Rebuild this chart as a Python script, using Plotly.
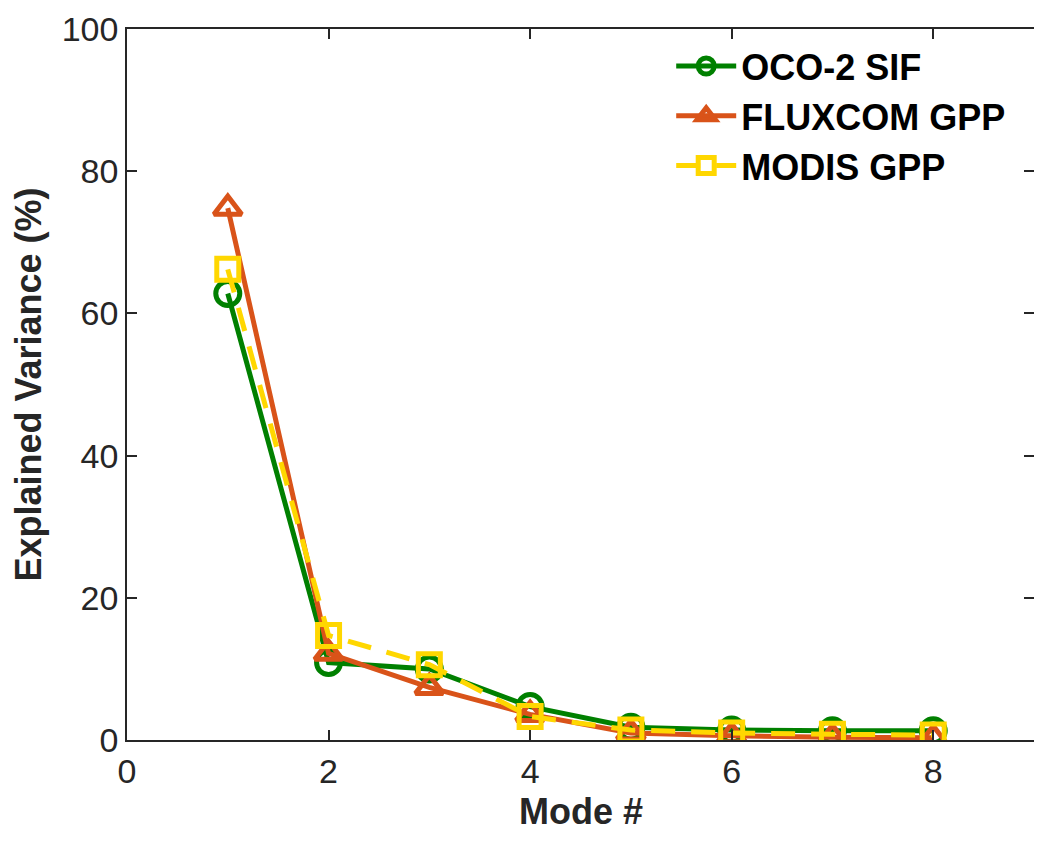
import plotly.graph_objects as go

modes = [1, 2, 3, 4, 5, 6, 7, 8]
oco2_sif = [62.8, 10.9, 10.0, 4.7, 1.8, 1.4, 1.3, 1.3]
fluxcom_gpp = [74.8, 12.2, 7.4, 3.6, 1.0, 0.6, 0.4, 0.3]
modis_gpp = [66.2, 14.7, 10.6, 3.3, 1.4, 1.0, 0.8, 0.7]

xticks = [0, 2, 4, 6, 8]
yticks = [0, 20, 40, 60, 80, 100]

axcol = "#262626"
fig = go.Figure()
fig.add_trace(go.Scatter(x=modes, y=oco2_sif, name="OCO-2 SIF", mode="lines+markers",
                         line=dict(color="#008000", width=5),
                         marker=dict(symbol="circle-open", size=24, line=dict(width=5, color="#008000"))))
fig.add_trace(go.Scatter(x=modes, y=fluxcom_gpp, name="FLUXCOM GPP", mode="lines+markers",
                         line=dict(color="#D95319", width=5),
                         marker=dict(symbol="triangle-up-open", size=24, line=dict(width=5, color="#D95319"))))
fig.add_trace(go.Scatter(x=modes, y=modis_gpp, name="MODIS GPP", mode="lines+markers",
                         line=dict(color="#FFD700", width=5, dash="24px,16px"),
                         marker=dict(symbol="square-open", size=22, line=dict(width=5, color="#FFD700"))))

fig.update_layout(
    width=1026, height=826,
    margin=dict(l=119, r=0, t=21, b=94, autoexpand=False),
    paper_bgcolor="white", plot_bgcolor="white",
    font=dict(family="Liberation Sans, Arial, sans-serif", color=axcol, size=34),
    showlegend=True,
    legend=dict(x=0.6, y=0.99, xanchor="left", yanchor="top",
                font=dict(size=36, color="black", family="Liberation Sans, Arial, sans-serif", weight="bold"),
                bgcolor="rgba(255,255,255,0)", tracegroupgap=0, itemwidth=60),
    xaxis=dict(range=[0, 9], tickvals=xticks, ticks="inside", ticklen=10, tickwidth=1.5,
               tickcolor=axcol, showline=True, linecolor=axcol, linewidth=1.5, mirror="ticks",
               showgrid=False, zeroline=False, automargin=False, ticklabeloverflow="allow"),
    yaxis=dict(range=[0, 100], tickvals=yticks, ticks="inside", ticklen=10, tickwidth=1.5,
               tickcolor=axcol, showline=True, linecolor=axcol, linewidth=1.5, mirror="ticks",
               showgrid=False, zeroline=False, automargin=False, ticklabeloverflow="allow",
               title=dict(text="<b>Explained Variance (%)</b>", font=dict(size=36), standoff=22)),
    annotations=[dict(text="<b>Mode #</b>", xref="paper", yref="paper", x=0.5, y=-0.1,
                      xanchor="center", yanchor="middle", showarrow=False,
                      font=dict(size=36, color=axcol))],
)

fig.write_html("out.html")
